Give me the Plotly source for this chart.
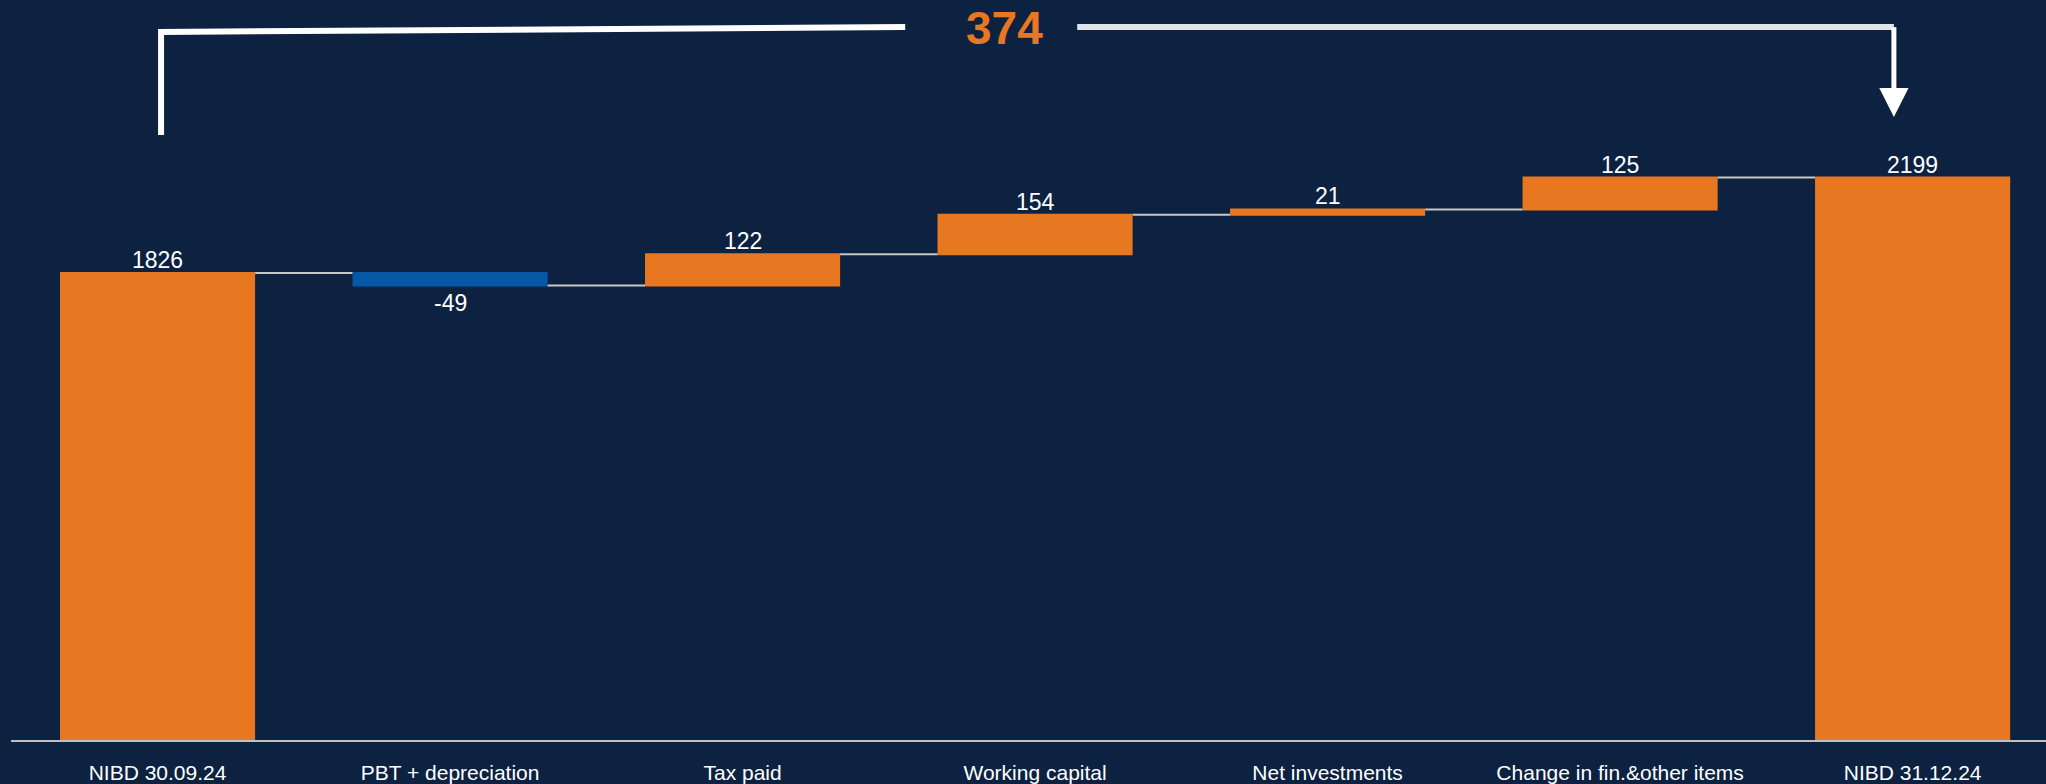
import plotly.graph_objects as go

# NIBD bridge, MNOK
categories = ["NIBD 30.09.24", "PBT + depreciation", "Tax paid", "Working capital",
              "Net investments", "Change in fin.&other items", "NIBD 31.12.24"]
values = [1826, -49, 122, 154, 21, 125, 2199]
measures = ["absolute", "relative", "relative", "relative", "relative", "relative", "total"]
total_change = 374

BG = "#0c2240"
ORANGE = "#e87722"
BLUE = "#0558a6"
FONT = "Liberation Sans, Arial, sans-serif"

fig = go.Figure(go.Waterfall(
    x=categories,
    y=values,
    measure=measures,
    width=0.667,
    increasing=dict(marker=dict(color=ORANGE)),
    decreasing=dict(marker=dict(color=BLUE)),
    totals=dict(marker=dict(color=ORANGE)),
    connector=dict(mode="between", line=dict(color="#c8c8c8", width=2)),
    hoverinfo="skip",
))

# value labels: above rising bars, below falling ones
annotations = []
running = 0
for cat, val, m in zip(categories, values, measures):
    if m == "absolute":
        start, end = 0, val
    elif m == "total":
        start, end = 0, running
    else:
        start, end = running, running + val
    running = end
    up = end >= start
    annotations.append(dict(
        x=cat, y=end, xref="x", yref="y", text=str(val), showarrow=False,
        xanchor="center", yanchor="bottom" if up else "top",
        yshift=-2 if up else -3,
        font=dict(family=FONT, size=23, color="white"),
    ))

# bracket from the opening bar to the closing bar, with the change in the middle
y_left_low = 2365
y_left_top = 2768
y_top = 2787
y_head = 2549
y_tip = 2436
x_left = 0.012
x_left_end = 2.556
x_right_start = 3.144
x_arrow = 5.936
head_half = 0.05

shapes = [
    dict(type="path", xref="x", yref="y",
         path=f"M {x_left},{y_left_low} L {x_left},{y_left_top} L {x_left_end},{y_top}",
         line=dict(color="white", width=6)),
    dict(type="line", xref="x", yref="y",
         x0=x_right_start, x1=x_arrow, y0=y_top, y1=y_top,
         line=dict(color="#dfe4ea", width=6)),
    dict(type="line", xref="x", yref="y",
         x0=x_arrow, x1=x_arrow, y0=y_top, y1=y_head,
         line=dict(color="white", width=5)),
    dict(type="path", xref="x", yref="y",
         path=f"M {x_arrow - head_half},{y_head} L {x_arrow + head_half},{y_head} "
              f"L {x_arrow},{y_tip} Z",
         fillcolor="white", line=dict(color="white", width=0)),
]

annotations.append(dict(
    x=2.897, y=2783, xref="x", yref="y",
    text=f"<b>{total_change}</b>", showarrow=False,
    font=dict(family=FONT, size=46, color=ORANGE),
    xanchor="center", yanchor="middle",
))

fig.update_layout(
    width=2046, height=784,
    margin=dict(l=11, r=0, t=0, b=44),
    paper_bgcolor=BG, plot_bgcolor=BG,
    showlegend=False,
    shapes=shapes,
    annotations=annotations,
    xaxis=dict(
        range=[-0.501, 6.456],
        showgrid=False, zeroline=False,
        showline=True, linecolor="#c0c0c0", linewidth=2,
        ticks="", automargin=False,
        ticklabelstandoff=13,
        tickfont=dict(family=FONT, size=21, color="white"),
    ),
    yaxis=dict(
        range=[0, 2893],
        showgrid=False, zeroline=False, showline=False,
        showticklabels=False, automargin=False,
    ),
)

fig.write_html("out.html")
